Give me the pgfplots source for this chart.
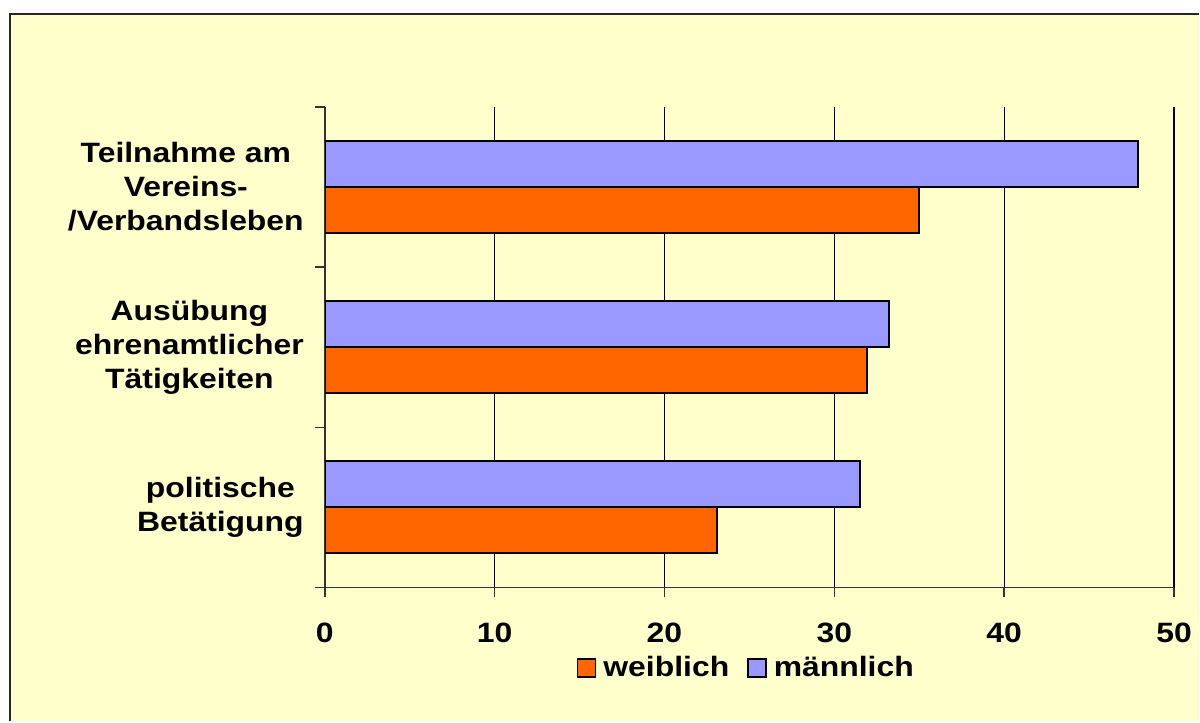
\documentclass[border=0pt]{standalone}
\usepackage{pgfplots}
\pgfplotsset{compat=1.18}
\usepackage{fontspec}
\setmainfont{Liberation Sans}[FakeStretch=1.14]
\definecolor{bgyellow}{HTML}{FFFFCC}
\definecolor{orangec}{HTML}{FF6600}
\definecolor{lavc}{HTML}{9999FF}
\newcommand{\chartfont}{\fontsize{14}{17}\selectfont\bfseries}
\begin{document}
\begin{tikzpicture}
\fill[white] (0,0) rectangle (600pt,361pt);
\fill[bgyellow] (5pt,0) rectangle (600pt,354pt);
\draw[black!85, line width=1pt] (5pt,0) -- (5pt,354pt) -- (600pt,354pt);
\begin{axis}[
  at={(162.5pt,67pt)}, anchor=south west,
  scale only axis, width=425pt, height=240.5pt,
  xbar, xmin=0, xmax=50, ymin=-0.5, ymax=2.5,
  axis lines*=left,
  axis line style={black!80, line width=0.8pt},
  tick align=outside, major tick length=5pt,
  tick style={black!80, line width=0.8pt},
  xtick={0,10,20,30,40,50},
  xmajorgrids, major grid style={black, line width=0.6pt},
  ytick={-0.5,0.5,1.5,2.5}, yticklabels={},
  extra y ticks={0,1,2},
  extra y tick labels={politische\\Betätigung, Ausübung\\ehrenamtlicher\\Tätigkeiten, Teilnahme am\\Vereins-\\/Verbandsleben},
  extra y tick style={major tick length=0pt},
  yticklabel style={align=center, font=\chartfont, xshift=-7pt},
  xticklabel style={font=\chartfont, yshift=-9pt},
  /pgf/number format/assume math mode=true,
  legend style={at={(0.4976,-0.168)}, anchor=center, legend columns=2, draw=none, fill=none,
    font=\chartfont, /tikz/every even column/.append style={column sep=7pt},
    /tikz/every odd column/.append style={column sep=1.5pt}},
  legend image code/.code={\draw[#1, line width=0.8pt] (0pt,-4.5pt) rectangle (9pt,4.5pt);},
]
\addplot[fill=orangec, draw=black, line width=1pt, bar width=23pt, bar shift=-11.5pt]
  coordinates {(23.1,0) (31.9,1) (35.0,2)};
\addplot[fill=lavc, draw=black, line width=1pt, bar width=23pt, bar shift=11.5pt]
  coordinates {(31.5,0) (33.2,1) (47.9,2)};
\legend{weiblich, männlich}
\end{axis}
\end{tikzpicture}
\end{document}
